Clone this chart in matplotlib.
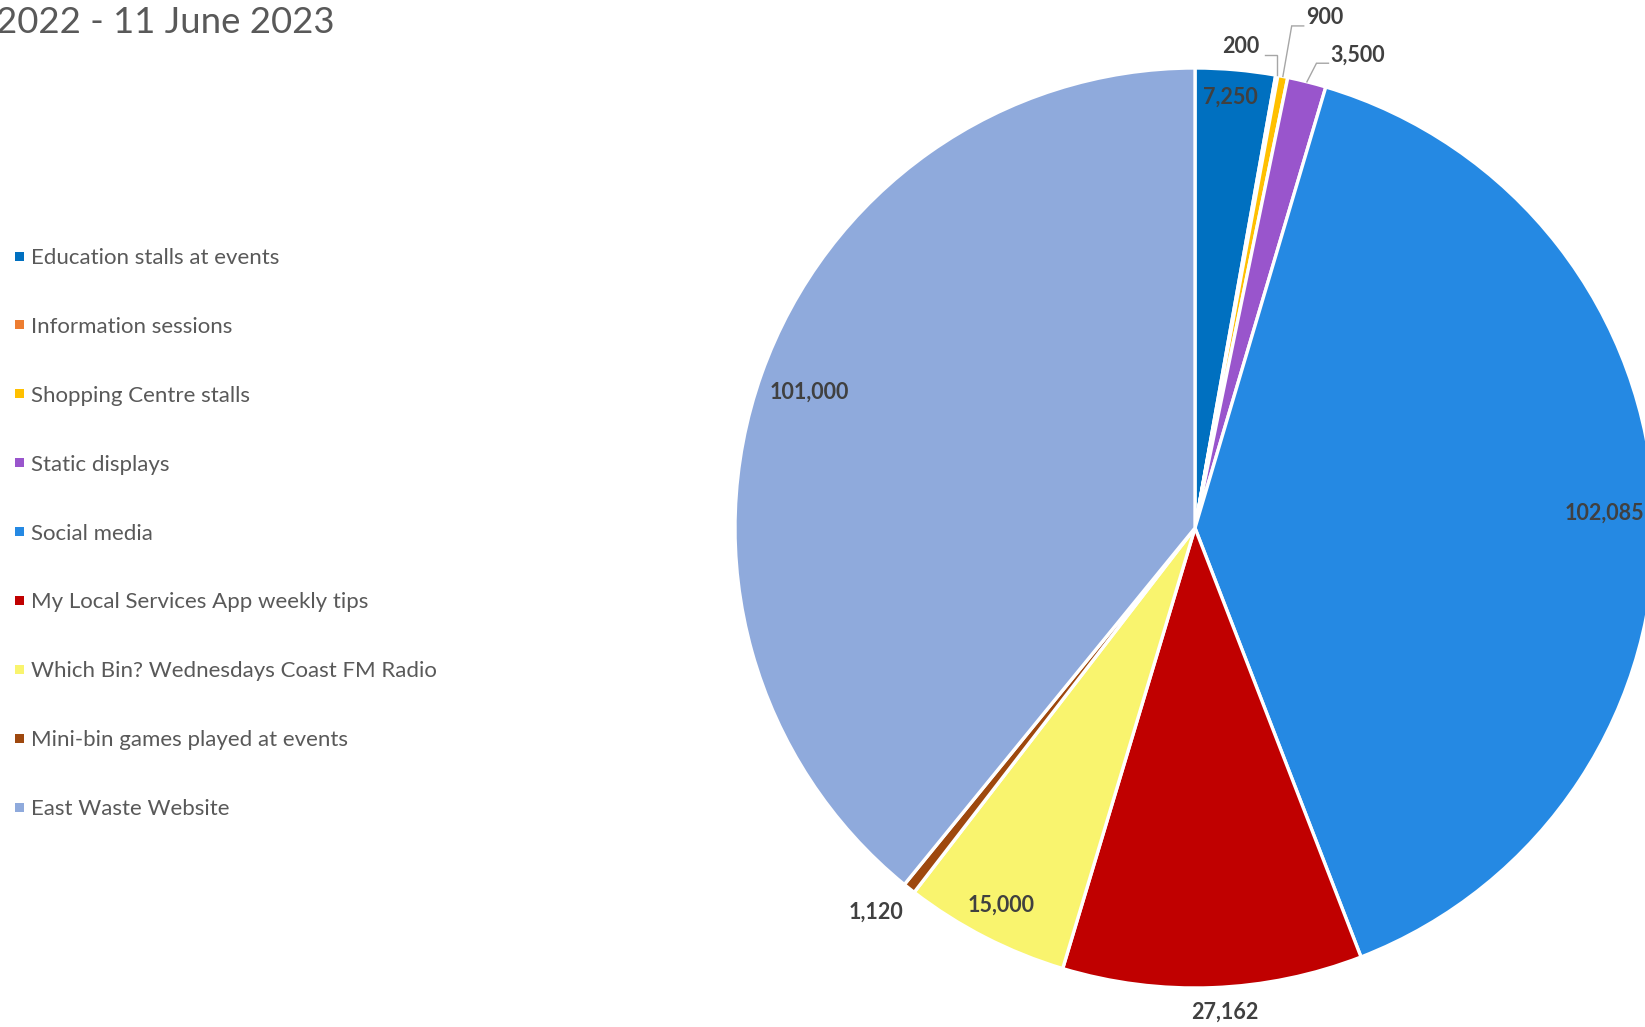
import matplotlib
matplotlib.use("Agg")
import matplotlib.pyplot as plt
from matplotlib.patches import Rectangle
import numpy as np

plt.rcParams['font.family'] = ['Lato', 'DejaVu Sans']

# Audience reach by channel
categories = [
    "Education stalls at events",
    "Information sessions",
    "Shopping Centre stalls",
    "Static displays",
    "Social media",
    "My Local Services App weekly tips",
    "Which Bin? Wednesdays Coast FM Radio",
    "Mini-bin games played at events",
    "East Waste Website",
]
reach = [7250, 200, 900, 3500, 102085, 27162, 15000, 1120, 101000]
title_text = "2022 - 11 June 2023"

colors = ["#0070C0", "#ED7D31", "#FFC000", "#9955CC", "#2589E3",
          "#C00000", "#F9F46E", "#9E480E", "#8FAADC"]

# label placement: (radius fraction, angular offset in degrees, leader line)
label_place = [(0.94, 0.3, False), (1.052, 4.8, True), (1.145, -3.2, True),
               (1.088, -4.9, True), (0.89, -0.3, False), (1.054, 1.3, False),
               (0.922, 0.0, False), (1.085, -1.3, False), (0.889, 0.2, False)]

W, H = 1645, 1027
fig = plt.figure(figsize=(W / 100, H / 100), dpi=100)
ax = fig.add_axes([0, 0, 1, 1])

CX, CY, R = 1195, H - 528, 460

wedges, _ = ax.pie(reach, colors=colors, startangle=90, counterclock=False,
                   center=(CX, CY), radius=R,
                   wedgeprops=dict(edgecolor="white", linewidth=2.4))
ax.set_xlim(0, W)
ax.set_ylim(0, H)
ax.set_aspect("equal")
ax.axis("off")

# title (its opening runs off the left edge of the canvas)
ax.text(-4, H - 33, title_text, ha="left", va="baseline",
        fontsize=26.3, color="#595959")

# legend
leg_y0, leg_dy = 256, 68.9
for i, (name, col) in enumerate(zip(categories, colors)):
    yc = H - (leg_y0 + i * leg_dy)
    ax.add_patch(Rectangle((15, yc - 4.5), 9, 9, facecolor=col, edgecolor="none"))
    ax.text(31, yc, name, ha="left", va="center_baseline", fontsize=16,
            color="#595959")

# data labels
texts = []
for w, v, (rf, dth, lead) in zip(wedges, reach, label_place):
    mid = 0.5 * (w.theta1 + w.theta2)
    ang = np.deg2rad(mid + dth)
    x = CX + rf * R * np.cos(ang)
    y = CY + rf * R * np.sin(ang)
    t = ax.text(x, y, f"{v:,}", ha="center", va="center", fontsize=15.5,
                fontweight="bold", color="#404040")
    texts.append((t, w, lead))

fig.canvas.draw()
renderer = fig.canvas.get_renderer()
inv = ax.transData.inverted()
for t, w, lead in texts:
    if not lead:
        continue
    mid = np.deg2rad(0.5 * (w.theta1 + w.theta2))
    ex, ey = CX + R * np.cos(mid), CY + R * np.sin(mid)
    bb = t.get_window_extent(renderer).transformed(inv)
    ly = bb.y0 + 2
    if ex > bb.x1:
        x0 = bb.x1 + 5
        x1 = ex
    else:
        x0 = bb.x0 - 2
        x1 = x0 - 12
    ax.plot([x0, x1, ex], [ly, ly, ey], color="#A6A6A6", lw=1,
            solid_joinstyle="miter")

fig.savefig("out.png", dpi=100)
